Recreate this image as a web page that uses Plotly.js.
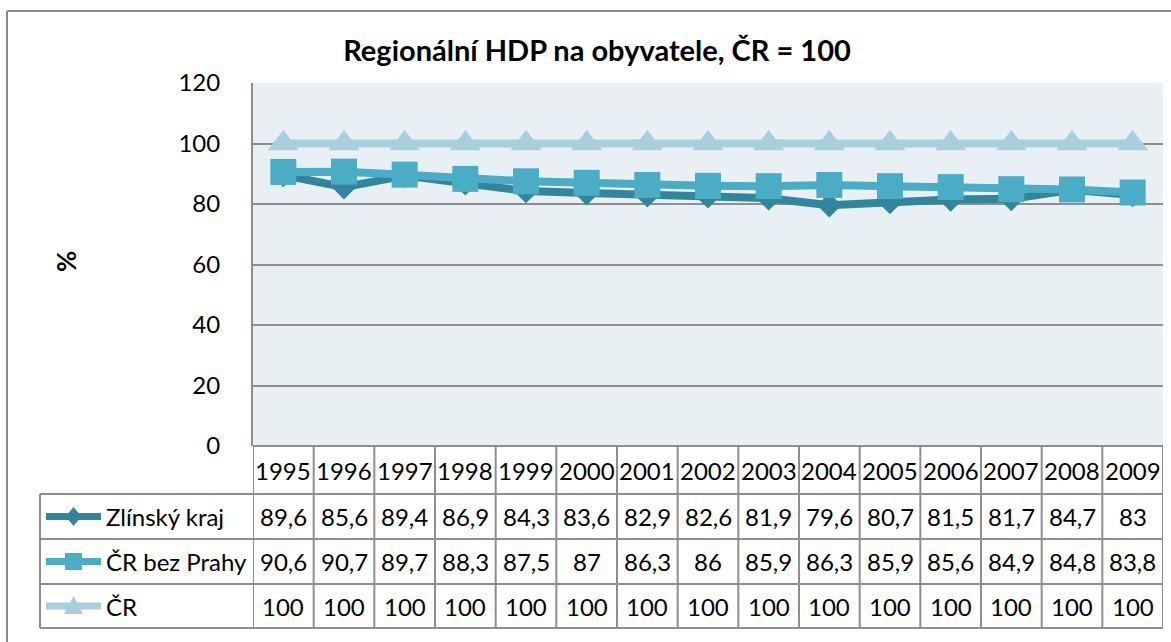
<!DOCTYPE html>
<html>
<head>
<meta charset="utf-8">
<script src="https://cdn.plot.ly/plotly-3.0.1.min.js"></script>
<style>html,body{margin:0;padding:0;background:#fff;}#chart{width:1171px;height:642px;}</style>
</head>
<body>
<div id="chart"></div>
<script>
// ---- data ----
var years = ['1995','1996','1997','1998','1999','2000','2001','2002','2003','2004','2005','2006','2007','2008','2009'];
var zlinsky = [89.6,85.6,89.4,86.9,84.3,83.6,82.9,82.6,81.9,79.6,80.7,81.5,81.7,84.7,83];
var crBezPrahy = [90.6,90.7,89.7,88.3,87.5,87,86.3,86,85.9,86.3,85.9,85.6,84.9,84.8,83.8];
var cr = [100,100,100,100,100,100,100,100,100,100,100,100,100,100,100];
var seriesNames = ['Zlínský kraj','ČR bez Prahy','ČR'];
var yTicks = [0,20,40,60,80,100,120];
var titleText = 'Regionální HDP na obyvatele, ČR = 100';
var yTitle = '%';

// ---- layout helpers (pixels -> paper) ----
var W = 1171, H = 642;
function px(x){return x/W;}
function py(y){return 1 - y/H;}
var plotL = 253, plotR = 1163, plotT = 83, plotB = 446;
var rowLines = [446, 494, 539, 584, 628];
var tableL = 40;
var FONT = 'Lato, "Open Sans", sans-serif';
var gridCol = '#8e8e8e';

var styles = [
  {color:'#31859C', symbol:'diamond', size:19},
  {color:'#4BACC6', symbol:'square', size:26},
  {color:'#A9CFDC', symbol:'triangle-up', size:27}
];
var seriesVals = [zlinsky, crBezPrahy, cr];
function fmt(v){return String(v).replace('.', ',');}

var traces = [];
seriesVals.forEach(function(vals, i){
  traces.push({
    type:'scatter', mode:'lines+markers', x:years, y:vals, name:seriesNames[i],
    line:{color:styles[i].color, width:8},
    marker:{color:styles[i].color, symbol:styles[i].symbol, size:styles[i].size, line:{width:0}},
    showlegend:false, hoverinfo:'x+y+name', cliponaxis:false
  });
});

var shapes = [];
var annotations = [];
// outer chart border (left and top visible)
shapes.push({type:'line', xref:'paper', yref:'paper', x0:px(7), x1:px(7), y0:py(11), y1:py(660), line:{color:'#8a8a8a', width:2}});
shapes.push({type:'line', xref:'paper', yref:'paper', x0:px(7), x1:px(1180), y0:py(11), y1:py(11), line:{color:'#8a8a8a', width:2}});

// table horizontal lines
shapes.push({type:'line', xref:'paper', yref:'paper', x0:px(plotL), x1:px(plotR), y0:py(rowLines[0]), y1:py(rowLines[0]), line:{color:gridCol, width:2}});
for (var r = 1; r < rowLines.length; r++) {
  shapes.push({type:'line', xref:'paper', yref:'paper', x0:px(tableL), x1:px(plotR), y0:py(rowLines[r]), y1:py(rowLines[r]), line:{color:gridCol, width:2}});
}
// table vertical lines (column boundaries via the category axis)
for (var c = 0; c <= years.length; c++) {
  shapes.push({type:'line', xref:'x', yref:'paper', x0:c-0.5, x1:c-0.5, y0:py(rowLines[0]), y1:py(rowLines[4]), line:{color:gridCol, width:2}});
}
shapes.push({type:'line', xref:'paper', yref:'paper', x0:px(tableL), x1:px(tableL), y0:py(rowLines[1]), y1:py(rowLines[4]), line:{color:gridCol, width:2}});

// legend keys inside the table
function keyPath(sym, cx, cy){
  var pts;
  if (sym === 'diamond') { pts = [[cx-8,cy],[cx,cy-9.5],[cx+8,cy],[cx,cy+9.5]]; }
  else if (sym === 'square') { pts = [[cx-8.5,cy-8.5],[cx+8.5,cy-8.5],[cx+8.5,cy+8.5],[cx-8.5,cy+8.5]]; }
  else { pts = [[cx-9.5,cy+8],[cx+9.5,cy+8],[cx,cy-10]]; }
  return 'M' + pts.map(function(p){return px(p[0]) + ',' + py(p[1]);}).join('L') + 'Z';
}
var keyX0 = 46, keyX1 = 101;
for (var i = 0; i < 3; i++) {
  var cy = (rowLines[i+1] + rowLines[i+2]) / 2;
  shapes.push({type:'line', xref:'paper', yref:'paper', x0:px(keyX0), x1:px(keyX1), y0:py(cy), y1:py(cy), line:{color:styles[i].color, width:7}});
  shapes.push({type:'path', xref:'paper', yref:'paper', path:keyPath(styles[i].symbol, (keyX0+keyX1)/2, cy), fillcolor:styles[i].color, line:{width:0}});
}

// table text
var tf = {family:FONT, size:24, color:'#000'};
years.forEach(function(yr, c){
  annotations.push({xref:'x', yref:'paper', x:c, y:py((rowLines[0]+rowLines[1])/2), text:yr, showarrow:false, xanchor:'center', yanchor:'middle', font:tf});
  seriesVals.forEach(function(vals, i){
    annotations.push({xref:'x', yref:'paper', x:c, y:py((rowLines[i+1]+rowLines[i+2])/2), text:fmt(vals[c]), showarrow:false, xanchor:'center', yanchor:'middle', font:tf});
  });
});
seriesNames.forEach(function(n, i){
  annotations.push({xref:'paper', yref:'paper', x:px(104), y:py((rowLines[i+1]+rowLines[i+2])/2), text:n, showarrow:false, xanchor:'left', yanchor:'middle', font:tf});
});
// y axis title
annotations.push({xref:'paper', yref:'paper', x:px(66), y:py(262), text:'<b>'+yTitle+'</b>', textangle:-90, showarrow:false, xanchor:'center', yanchor:'middle', font:{family:FONT, size:26, color:'#000'}});

var layout = {
  width:W, height:H,
  margin:{l:0, r:0, t:0, b:0},
  paper_bgcolor:'#ffffff', plot_bgcolor:'#E9F0F4',
  title:{text:'<b>'+titleText+'</b>', x:px(597), y:py(51), xanchor:'center', yanchor:'middle', xref:'paper', yref:'paper', font:{family:FONT, size:29, color:'#000'}},
  xaxis:{domain:[px(plotL), px(plotR)], type:'category', range:[-0.5, years.length-0.5], showticklabels:false, showgrid:false, zeroline:false, showline:false, ticks:'', fixedrange:true},
  yaxis:{domain:[py(plotB), py(plotT)], range:[0,120], tickvals:yTicks, ticktext:yTicks.map(String), showgrid:true, gridcolor:gridCol, gridwidth:2, zeroline:false, showline:true, linecolor:gridCol, linewidth:2, ticks:'', ticklabelstandoff:26, tickfont:{family:FONT, size:24, color:'#000'}, fixedrange:true},
  shapes:shapes, annotations:annotations, showlegend:false
};

Plotly.newPlot('chart', traces, layout, {displayModeBar:false, staticPlot:true});
</script>
</body>
</html>
